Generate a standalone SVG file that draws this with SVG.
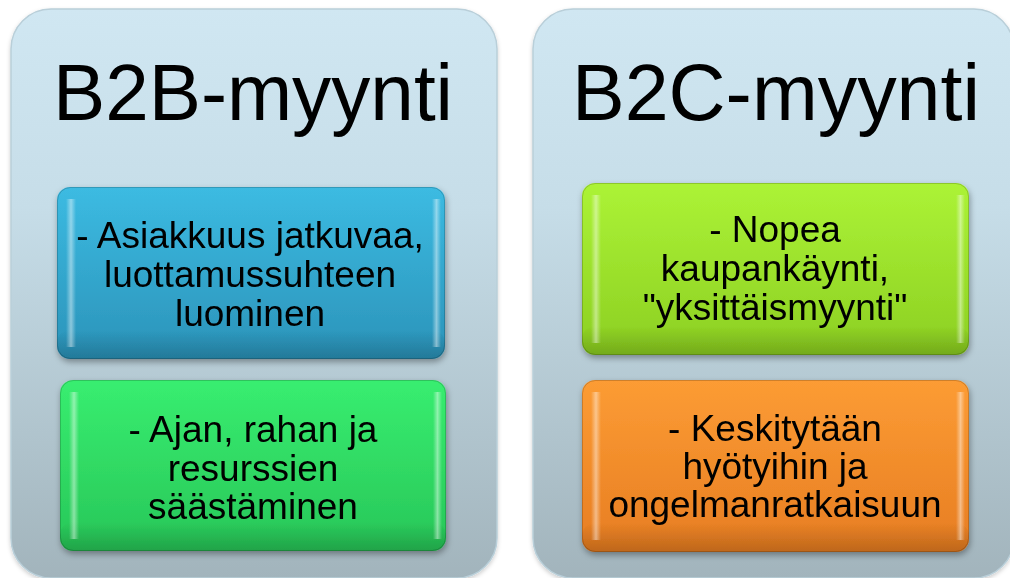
<svg xmlns="http://www.w3.org/2000/svg" width="1010" height="578" viewBox="0 0 1010 578">
  <defs>
    <linearGradient id="panelFill" x1="0" y1="0" x2="0" y2="1">
      <stop offset="0" stop-color="#d0e7f2"/>
      <stop offset="0.35" stop-color="#c6dde8"/>
      <stop offset="1" stop-color="#a2b4bc"/>
    </linearGradient>
    <linearGradient id="blueFill" x1="0" y1="0" x2="0" y2="1">
      <stop offset="0" stop-color="#3cbbe2"/>
      <stop offset="1" stop-color="#2b93b9"/>
    </linearGradient>
    <linearGradient id="greenFill" x1="0" y1="0" x2="0" y2="1">
      <stop offset="0" stop-color="#38ee70"/>
      <stop offset="1" stop-color="#28c658"/>
    </linearGradient>
    <linearGradient id="limeFill" x1="0" y1="0" x2="0" y2="1">
      <stop offset="0" stop-color="#acf336"/>
      <stop offset="1" stop-color="#8ccf22"/>
    </linearGradient>
    <linearGradient id="orangeFill" x1="0" y1="0" x2="0" y2="1">
      <stop offset="0" stop-color="#fc9c34"/>
      <stop offset="1" stop-color="#e77d22"/>
    </linearGradient>
    <linearGradient id="edgeLight" x1="0" y1="0" x2="1" y2="0">
      <stop offset="0" stop-color="#ffffff" stop-opacity="0"/>
      <stop offset="0.5" stop-color="#ffffff" stop-opacity="0.45"/>
      <stop offset="1" stop-color="#ffffff" stop-opacity="0"/>
    </linearGradient>
    <linearGradient id="bottomShade" x1="0" y1="0" x2="0" y2="1">
      <stop offset="0" stop-color="#000000" stop-opacity="0"/>
      <stop offset="1" stop-color="#000000" stop-opacity="0.18"/>
    </linearGradient>
    <filter id="boxShadow" x="-10%" y="-10%" width="120%" height="130%">
      <feDropShadow dx="1" dy="3" stdDeviation="3" flood-color="#000000" flood-opacity="0.35"/>
    </filter>
    <filter id="panelShadow" x="-5%" y="-5%" width="110%" height="110%">
      <feDropShadow dx="0" dy="2" stdDeviation="2" flood-color="#000000" flood-opacity="0.2"/>
    </filter>
  </defs>
  <style>
    .panel { fill: url(#panelFill); stroke: #b9cfd9; stroke-width: 1.5; }
    .title { font-family: "Liberation Sans", Arial, sans-serif; font-size: 80px; fill: #000000; text-anchor: middle; }
    .body { font-family: "Liberation Sans", Arial, sans-serif; font-size: 37px; fill: #000000; text-anchor: middle; }
    .box { filter: url(#boxShadow); }
    .rim { fill: none; stroke: #000000; stroke-opacity: 0.18; stroke-width: 1; }
    .hl { fill: url(#edgeLight); }
    .shade { fill: url(#bottomShade); }
  </style>

  <!-- B2B panel -->
  <g id="panel-b2b">
    <rect class="panel" x="11" y="9" width="486" height="569" rx="40" filter="url(#panelShadow)"/>
    <text class="title" x="253" y="120" textLength="400" lengthAdjust="spacingAndGlyphs">B2B-myynti</text>
  </g>

  <!-- B2C panel -->
  <g id="panel-b2c">
    <rect class="panel" x="533" y="9" width="481" height="569" rx="40" filter="url(#panelShadow)"/>
    <text class="title" x="776" y="120" textLength="408" lengthAdjust="spacingAndGlyphs">B2C-myynti</text>
  </g>

  <!-- B2B: continuity and trust -->
  <g id="box-trust" class="box">
    <rect x="57" y="187" width="388" height="172" rx="13" fill="url(#blueFill)"/>
    <rect class="shade" x="57" y="330" width="388" height="29" rx="13"/>
    <rect class="hl" x="66" y="199" width="10" height="148"/>
    <rect class="hl" x="432" y="199" width="9" height="148"/>
    <rect class="rim" x="57.5" y="187.5" width="387" height="171" rx="13"/>
    <text class="body" x="250" y="248">- Asiakkuus jatkuvaa,</text>
    <text class="body" x="250" y="287">luottamussuhteen</text>
    <text class="body" x="250" y="326">luominen</text>
  </g>

  <!-- B2B: saving time, money and resources -->
  <g id="box-saving" class="box">
    <rect x="60" y="380" width="386" height="171" rx="13" fill="url(#greenFill)"/>
    <rect class="shade" x="60" y="522" width="386" height="29" rx="13"/>
    <rect class="hl" x="69" y="392" width="10" height="147"/>
    <rect class="hl" x="433" y="392" width="9" height="147"/>
    <rect class="rim" x="60.5" y="380.5" width="385" height="170" rx="13"/>
    <text class="body" x="253" y="442">- Ajan, rahan ja</text>
    <text class="body" x="253" y="481">resurssien</text>
    <text class="body" x="253" y="519">säästäminen</text>
  </g>

  <!-- B2C: quick one-off sales -->
  <g id="box-quick" class="box">
    <rect x="582" y="183" width="387" height="172" rx="13" fill="url(#limeFill)"/>
    <rect class="shade" x="582" y="326" width="387" height="29" rx="13"/>
    <rect class="hl" x="591" y="195" width="10" height="148"/>
    <rect class="hl" x="956" y="195" width="9" height="148"/>
    <rect class="rim" x="582.5" y="183.5" width="386" height="171" rx="13"/>
    <text class="body" x="775" y="242">- Nopea</text>
    <text class="body" x="775" y="281">kaupankäynti,</text>
    <text class="body" x="775" y="320">"yksittäismyynti"</text>
  </g>

  <!-- B2C: focus on benefits and problem solving -->
  <g id="box-benefits" class="box">
    <rect x="582" y="380" width="387" height="172" rx="13" fill="url(#orangeFill)"/>
    <rect class="shade" x="582" y="523" width="387" height="29" rx="13"/>
    <rect class="hl" x="591" y="392" width="10" height="148"/>
    <rect class="hl" x="956" y="392" width="9" height="148"/>
    <rect class="rim" x="582.5" y="380.5" width="386" height="171" rx="13"/>
    <text class="body" x="775" y="441">- Keskitytään</text>
    <text class="body" x="775" y="479">hyötyihin ja</text>
    <text class="body" x="775" y="517">ongelmanratkaisuun</text>
  </g>

  <!-- no connectors in this diagram -->
  <g id="connectors"/>
</svg>
